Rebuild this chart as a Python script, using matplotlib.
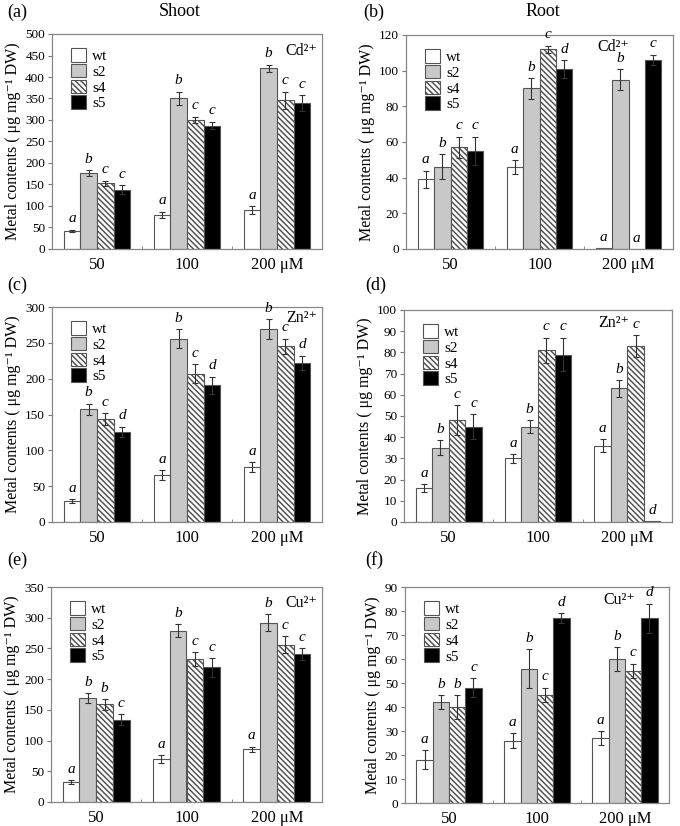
import numpy as np
import matplotlib
matplotlib.use('Agg')
from matplotlib import pyplot as plt
from matplotlib.patches import Patch

plt.rcParams['font.family'] = ['Liberation Serif', 'DejaVu Serif']
plt.rcParams['hatch.linewidth'] = 1.1

lines = ['wt', 's2', 's4', 's5']
doses = ['50', '100', '200 μM']

# mean values, rows = dose (50, 100, 200), cols = wt, s2, s4, s5
shoot_cd = [[42, 176, 153, 138], [79, 351, 300, 287], [91, 420, 346, 339]]
shoot_cd_err = [[3, 7, 6, 10], [8, 15, 8, 9], [9, 9, 20, 18]]
shoot_cd_let = [['a', 'b', 'c', 'c'], ['a', 'b', 'c', 'c'], ['a', 'b', 'c', 'c']]

root_cd = [[39, 46, 57, 55], [46, 90, 112, 101], [0.3, 95, 0, 106]]
root_cd_err = [[5, 7, 6, 8], [4, 6, 2, 5], [0, 6, 0, 3]]
root_cd_let = [['a', 'b', 'c', 'c'], ['a', 'b', 'c', 'd'], ['a', 'b', 'a', 'c']]

shoot_zn = [[29, 157, 144, 126], [65, 256, 207, 191], [77, 269, 245, 222]]
shoot_zn_err = [[3, 8, 8, 7], [7, 13, 13, 12], [7, 14, 11, 10]]
shoot_zn_let = [['a', 'b', 'c', 'd'], ['a', 'b', 'c', 'd'], ['a', 'b', 'c', 'd']]

root_zn = [[16, 35, 48, 45], [30, 45, 81, 79], [36, 63, 83, 0.3]]
root_zn_err = [[2, 3.5, 7, 6], [2, 3, 6, 8], [3, 4, 5, 0]]
root_zn_let = [['a', 'b', 'c', 'c'], ['a', 'b', 'c', 'c'], ['a', 'b', 'c', 'd']]

shoot_cu = [[33, 169, 159, 134], [70, 279, 233, 219], [86, 292, 256, 241]]
shoot_cu_err = [[3, 8, 9, 9], [6, 10, 11, 15], [4, 14, 14, 10]]
shoot_cu_let = [['a', 'b', 'b', 'c'], ['a', 'b', 'c', 'c'], ['a', 'b', 'c', 'c']]

root_cu = [[18, 42, 40, 48], [26, 56, 45, 77], [27, 60, 55, 77]]
root_cu_err = [[4, 3, 5, 4], [3, 8, 3, 2], [3, 5, 3, 6]]
root_cu_let = [['a', 'b', 'b', 'c'], ['a', 'b', 'c', 'd'], ['a', 'b', 'c', 'd']]

colors = ['white', '#c8c8c8', 'white', 'black']
hatches = [None, None, '\\\\\\\\\\\\', None]

W, H = 680, 826
fig = plt.figure(figsize=(W / 100, H / 100), dpi=100)


def px_axes(l, t, r, b):
    return fig.add_axes([l / W, 1 - b / H, (r - l) / W, (b - t) / H])


def panel(ax, vals, errs, lets, ymax, step, ion, ion_xy):
    vals = np.array(vals, dtype=float)
    errs = np.array(errs, dtype=float)
    x = np.arange(3)
    bw = 0.185
    for j in range(4):
        xs = x + (j - 1.5) * bw
        ax.bar(xs, vals[:, j], width=bw, color=colors[j], edgecolor='#555555',
               linewidth=0.8, hatch=hatches[j], zorder=2)
        e = errs[:, j]
        m = e > 0
        ax.errorbar(xs[m], vals[m, j], yerr=e[m], fmt='none', ecolor='#333333',
                    elinewidth=0.8, capsize=2.5, capthick=0.8, zorder=3)
        for i in range(3):
            ax.text(xs[i], vals[i, j] + errs[i, j] + ymax * 0.02, lets[i][j],
                    ha='center', va='bottom', fontsize=11, style='italic')
    ax.set_xlim(-0.5, 2.5)
    ax.set_ylim(0, ymax)
    ax.set_yticks(np.arange(0, ymax + step / 2, step))
    ax.set_xticks(x)
    ax.set_xticklabels(doses, fontsize=12)
    ax.set_xticks([0.5, 1.5], minor=True)
    ax.tick_params(axis='x', which='major', length=0, pad=6)
    ax.tick_params(axis='x', which='minor', length=2, direction='in', color='#777777')
    ax.tick_params(axis='y', labelsize=9.5, length=3, direction='out', color='#777777',
                   pad=2)
    for s in ax.spines.values():
        s.set_color('#888888')
        s.set_linewidth(0.9)
    ax.set_ylabel('Metal contents ( μg mg⁻¹ DW)', fontsize=11.5, labelpad=3)
    fig.text(ion_xy[0] / W, 1 - ion_xy[1] / H, ion, ha='left', va='center',
             fontsize=11.5)
    handles = [Patch(facecolor=colors[j], edgecolor='#555555', hatch=hatches[j],
                     linewidth=0.8) for j in range(4)]
    ax.legend(handles, lines, loc='upper left', bbox_to_anchor=(0.03, 0.985),
              frameon=False, fontsize=11, handlelength=1.0, handleheight=1.0,
              handletextpad=0.4, labelspacing=0.05, borderpad=0.2)


ax_a = px_axes(52, 34, 322, 249)
panel(ax_a, shoot_cd, shoot_cd_err, shoot_cd_let, 500, 50, 'Cd²⁺', (285, 51))
ax_b = px_axes(406, 35, 673, 249)
panel(ax_b, root_cd, root_cd_err, root_cd_let, 120, 20, 'Cd²⁺', (597, 47))
ax_c = px_axes(52, 307, 322, 522)
panel(ax_c, shoot_zn, shoot_zn_err, shoot_zn_let, 300, 50, 'Zn²⁺', (286, 318))
ax_d = px_axes(404, 310, 672, 522)
panel(ax_d, root_zn, root_zn_err, root_zn_let, 100, 10, 'Zn²⁺', (598, 323))
ax_e = px_axes(51, 587, 322, 802)
panel(ax_e, shoot_cu, shoot_cu_err, shoot_cu_let, 350, 50, 'Cu²⁺', (285, 603))
ax_f = px_axes(405, 587, 669, 803)
panel(ax_f, root_cu, root_cu_err, root_cu_let, 90, 10, 'Cu²⁺', (603, 600))

for lab, x, y in [('(a)', 7, 12), ('(b)', 363, 12), ('(c)', 7, 285),
                  ('(d)', 365, 285), ('(e)', 7, 560), ('(f)', 365, 560)]:
    fig.text(x / W, 1 - y / H, lab, fontsize=13, va='center', ha='left')
fig.text(180 / W, 1 - 12 / H, 'Shoot', fontsize=13, ha='center', va='center')
fig.text(543 / W, 1 - 12 / H, 'Root', fontsize=13, ha='center', va='center')

fig.savefig('out.png', dpi=100)
